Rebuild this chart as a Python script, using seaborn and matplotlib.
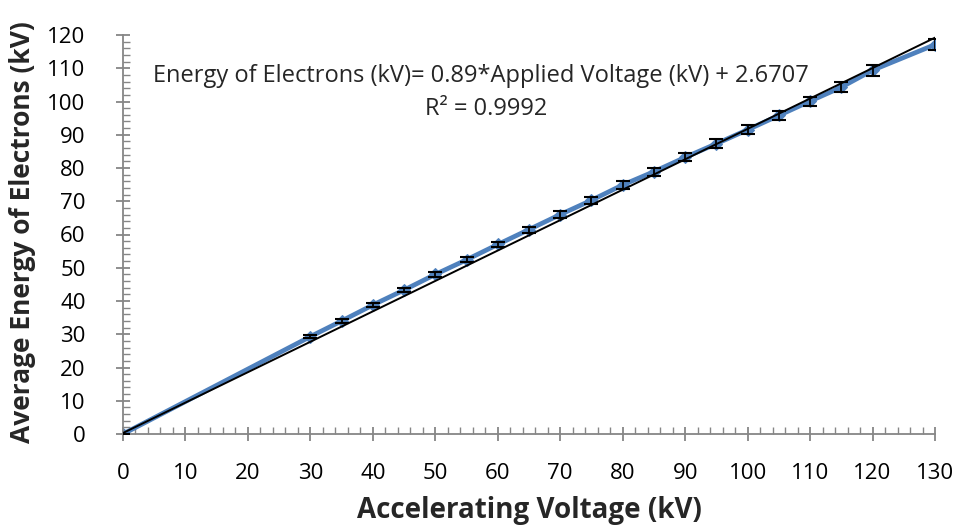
import numpy as np
import pandas as pd
import matplotlib
matplotlib.use("Agg")
import matplotlib.pyplot as plt
import seaborn as sns
from matplotlib.ticker import MultipleLocator

voltage = [0, 30, 35, 40, 45, 50, 55, 60, 65, 70, 75, 80, 85, 90, 95, 100, 105, 110, 115, 120, 130]
energy = [0, 29.3, 34.0, 38.8, 43.3, 48.0, 52.4, 57.0, 61.5, 66.0, 70.3, 74.9, 78.9, 83.2, 87.3, 91.5, 95.8, 100.1, 104.3, 109.4, 117.1]
err = [0, 0.4, 0.5, 0.6, 0.7, 0.7, 0.8, 0.8, 0.9, 1.0, 1.0, 1.1, 1.2, 1.2, 1.3, 1.3, 1.4, 1.4, 1.5, 1.6, 1.7]
trend_x = [0, 130]
trend_y = [0.3, 119.2]
equation_text = "Energy of Electrons (kV)= 0.89*Applied Voltage (kV) + 2.6707"
r2_text = "R² = 0.9992"
xlabel = "Accelerating Voltage (kV)"
ylabel = "Average Energy of Electrons (kV)"

sns.set_style("white")
plt.rcParams['font.family'] = ['Open Sans', 'DejaVu Sans']

df = pd.DataFrame({"V": voltage, "E": energy, "err": err})

fig = plt.figure(figsize=(9.59, 5.31), dpi=100)
ax = fig.add_axes([123/959, 1 - 434/531, (935-123)/959, (434-35)/531])

blue = "#4F81BD"
sns.lineplot(data=df, x="V", y="E", ax=ax, color=blue, linewidth=3.4,
             marker="D", markersize=6, markeredgecolor=blue, zorder=2)
ax.errorbar(df["V"], df["E"], yerr=df["err"], fmt="none", ecolor="black",
            elinewidth=1.3, capsize=5, capthick=1.5, zorder=3)
ax.plot(trend_x, trend_y, color="black", linewidth=1.4, zorder=4)

ax.set_xlim(0, 130)
ax.set_ylim(0, 120)
ax.xaxis.set_major_locator(MultipleLocator(10))
ax.xaxis.set_minor_locator(MultipleLocator(2))
ax.yaxis.set_major_locator(MultipleLocator(10))
ax.yaxis.set_minor_locator(MultipleLocator(2))

for s in ["top", "right"]:
    ax.spines[s].set_visible(False)
grey = "#868686"
for s in ["left", "bottom"]:
    ax.spines[s].set_color(grey)
    ax.spines[s].set_linewidth(1.3)

ax.tick_params(which="both", bottom=True, left=True, top=False, right=False)
ax.tick_params(which="major", direction="inout", length=10, width=1.3, color=grey,
               labelsize=16, labelcolor="black")
ax.tick_params(which="minor", direction="in", length=5, width=1.0, color=grey)
ax.tick_params(axis="x", which="major", pad=16)
ax.tick_params(axis="y", which="major", pad=22)

ax.set_xlabel(xlabel, fontsize=20, fontweight="bold")
ax.set_ylabel(ylabel, fontsize=19, fontweight="bold")
ax.xaxis.set_label_coords((529 - 123) / 812, -(496 - 434) / 399)
ax.yaxis.set_label_coords((36 - 123) / 812, (434 - 232) / 399)

ax.text(481/959, 1 - 76/531, equation_text, transform=fig.transFigure,
        ha="center", va="center", fontsize=17)
ax.text(486/959, 1 - 109/531, r2_text, transform=fig.transFigure,
        ha="center", va="center", fontsize=17)

fig.savefig("out.png", dpi=100)
